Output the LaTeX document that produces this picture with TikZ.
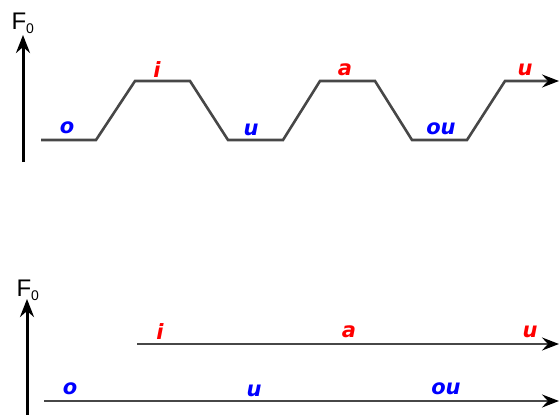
\documentclass[tikz,border=0pt]{standalone}
\usepackage{fontspec}
\setmainfont{Liberation Sans}
\newfontfamily\lblfont{DejaVu Sans}
\usetikzlibrary{arrows.meta}
\begin{document}
\begin{tikzpicture}[x=1pt,y=-1pt,
  axis/.style={line width=3pt,-{Stealth[length=18pt,width=14pt,inset=6pt]}},
  tone/.style={line width=2.6pt,draw=black!72},
  tonearr/.style={tone,-{Stealth[length=17pt,width=13pt,inset=6pt,color=black]}},
  hi/.style={text=red,font=\lblfont\fontsize{21}{21}\selectfont\bfseries\itshape,inner sep=0pt},
  lo/.style={text=blue,font=\lblfont\fontsize{21}{21}\selectfont\bfseries\itshape,inner sep=0pt},
  flab/.style={font=\fontsize{24}{24}\selectfont,inner sep=0pt}]
\useasboundingbox (0,0) rectangle (560,415);
% top panel
\coordinate (a0) at (23,162);
\coordinate (a1) at (23,35);
\draw[axis] (a0) -- (a1);
\node[flab] (f1) at (23,23) {F\textsubscript{\fontsize{14}{14}\selectfont 0}};
\coordinate (p0) at (41,140);
\coordinate (p1) at (96,140);
\coordinate (p2) at (135,81);
\coordinate (p3) at (190,81);
\coordinate (p4) at (228,140);
\coordinate (p5) at (283,140);
\coordinate (p6) at (320,81);
\coordinate (p7) at (375,81);
\coordinate (p8) at (412,140);
\coordinate (p9) at (467,140);
\coordinate (p10) at (505,81);
\coordinate (p11) at (559,81);
\draw[tonearr,line join=miter] (p0) -- (p1) -- (p2) -- (p3) -- (p4) -- (p5) -- (p6) -- (p7) -- (p8) -- (p9) -- (p10) -- (p11);
\node[lo] (t1) at (67,128) {o};
\node[hi] (t2) at (157,70) {i};
\node[lo] (t3) at (251,130) {u};
\node[hi] (t4) at (345,70) {a};
\node[lo] (t5) at (441,129) {ou};
\node[hi] (t6) at (525,70) {u};
% bottom panel
\coordinate (b0) at (27,416);
\coordinate (b1) at (27,299);
\draw[axis] (b0) -- (b1);
\node[flab] (f2) at (28,290) {F\textsubscript{\fontsize{14}{14}\selectfont 0}};
\coordinate (h0) at (137,344);
\coordinate (h1) at (559,344);
\draw[tonearr] (h0) -- (h1);
\coordinate (l0) at (44,401);
\coordinate (l1) at (559,401);
\draw[tonearr] (l0) -- (l1);
\node[hi] (s1) at (160,332) {i};
\node[hi] (s2) at (349,332) {a};
\node[hi] (s3) at (530,332) {u};
\node[lo] (s4) at (70,389) {o};
\node[lo] (s5) at (254,391) {u};
\node[lo] (s6) at (446,389) {ou};
\end{tikzpicture}
\end{document}
